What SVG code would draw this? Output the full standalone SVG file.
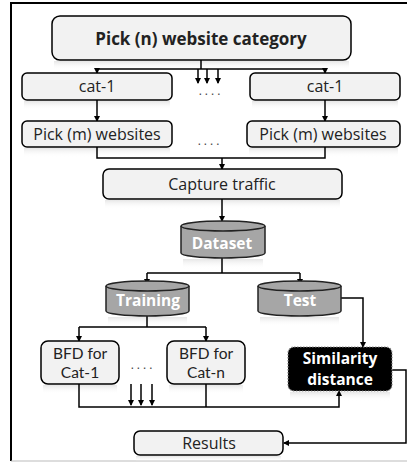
<svg xmlns="http://www.w3.org/2000/svg" width="407" height="463" viewBox="0 0 407 463">
<defs>
<marker id="ah" markerWidth="6" markerHeight="6" refX="5" refY="3" orient="auto" markerUnits="userSpaceOnUse">
<path d="M0,0 L6,3 L0,6 z" fill="#000"/>
</marker>
<linearGradient id="refl" x1="0" y1="0" x2="0" y2="1">
<stop offset="0" stop-color="#e6e6e6"/>
<stop offset="1" stop-color="#ffffff" stop-opacity="0"/>
</linearGradient>
<style>
.box{fill:#f2f2f2;stroke:#000;stroke-width:1.5}
.cyl{fill:#a6a6a6;stroke:#222;stroke-width:1.5}
.ref{fill:url(#refl)}
.t{font-family:"Open Sans","Noto Sans",sans-serif;font-size:16px;fill:#222;text-anchor:middle}
.b{font-weight:bold;font-size:17px}
.s{font-family:Lato,"Open Sans",sans-serif;font-size:15.5px}
.w{font-family:"Open Sans","Noto Sans",sans-serif;font-size:15.5px;font-weight:bold;fill:#fff;text-anchor:middle}
.ln{fill:none;stroke:#000;stroke-width:1.5}
.ar{fill:none;stroke:#000;stroke-width:1.5;marker-end:url(#ah)}
.dots{font-family:"Open Sans",sans-serif;font-size:12px;fill:#444;text-anchor:middle;letter-spacing:3px}
</style>
</defs>
<rect width="407" height="463" fill="#fff"/>
<g id="frame">
<path d="M407,3 H11 V461" fill="none" stroke="#000" stroke-width="2"/>
<path d="M11,461 H407" fill="none" stroke="#bbb" stroke-width="1"/>
</g>
<g id="reflections">
<rect class="ref" x="54" y="61" width="295" height="9"/>
<rect class="ref" x="24" y="101" width="146" height="9"/>
<rect class="ref" x="252" y="101" width="146" height="9"/>
<rect class="ref" x="24" y="148" width="146" height="9"/>
<rect class="ref" x="249" y="148" width="149" height="9"/>
<rect class="ref" x="105" y="200" width="235" height="9"/>
<rect class="ref" x="183" y="259" width="80" height="10"/>
<rect class="ref" x="108" y="317" width="79" height="9"/>
<rect class="ref" x="260" y="317" width="79" height="9"/>
<rect class="ref" x="43" y="385" width="74" height="9"/>
<rect class="ref" x="169" y="385" width="74" height="9"/>
<rect class="ref" x="290" y="392" width="100" height="9"/>
<rect class="ref" x="136" y="456" width="145" height="5"/>
</g>
<g id="connectors">
<path class="ln" d="M201,60 V69 M97,69 H325"/>
<path class="ar" d="M97,69 V73"/>
<path class="ar" d="M325,69 V73"/>
<path class="ar" d="M198,69 V83"/>
<path class="ar" d="M207,69 V83"/>
<path class="ar" d="M218,69 V83"/>
<path class="ar" d="M97,100 V121"/>
<path class="ar" d="M325,100 V121"/>
<path class="ln" d="M97,147 V158 H325 V147"/>
<path class="ar" d="M222,158 V169"/>
<path class="ar" d="M222,199 V221"/>
<path class="ln" d="M222,258 V273 M147,273 H300"/>
<path class="ar" d="M147,273 V284"/>
<path class="ar" d="M300,273 V284"/>
<path class="ar" d="M341,298 H363 V347"/>
<path class="ln" d="M147,316 V327 M79,327 H206"/>
<path class="ar" d="M79,327 V341"/>
<path class="ar" d="M206,327 V341"/>
<path class="ar" d="M79,384 V407 H339 V391"/>
<path class="ln" d="M206,384 V407"/>
<path class="ar" d="M131,384 V405"/>
<path class="ar" d="M141,384 V405"/>
<path class="ar" d="M152,384 V405"/>
<path class="ar" d="M392,370 H406 V443 H284"/>
</g>
<g id="pick-n">
<rect class="box" x="52" y="16" width="299" height="44" rx="8"/>
<text class="t b" x="201" y="45">Pick (n) website category</text>
</g>
<g id="cat-1-left">
<rect class="box" x="22" y="73" width="150" height="27" rx="5"/>
<text class="t" x="97" y="92">cat-1</text>
</g>
<g id="cat-1-right">
<rect class="box" x="250" y="73" width="150" height="27" rx="5"/>
<text class="t" x="325" y="92">cat-1</text>
</g>
<text class="dots" x="211" y="95">....</text>
<g id="pick-m-left">
<rect class="box" x="22" y="121" width="150" height="26" rx="5"/>
<text class="t" x="97" y="140">Pick (m) websites</text>
</g>
<g id="pick-m-right">
<rect class="box" x="247" y="121" width="153" height="26" rx="5"/>
<text class="t" x="323" y="140">Pick (m) websites</text>
</g>
<text class="dots" x="210" y="145">....</text>
<g id="capture">
<rect class="box" x="103" y="169" width="239" height="30" rx="6"/>
<text class="t" x="222" y="190">Capture traffic</text>
</g>
<g id="dataset">
<path class="cyl" d="M181,226 V253 A42,5 0 0 0 265,253 V226"/>
<ellipse class="cyl" cx="223" cy="226" rx="42" ry="5"/>
<text class="w" x="222" y="249">Dataset</text>
</g>
<g id="training">
<path class="cyl" d="M106,286 V311 A41.5,5 0 0 0 189,311 V286"/>
<ellipse class="cyl" cx="147.5" cy="286" rx="41.5" ry="5"/>
<text class="w" x="148" y="306">Training</text>
</g>
<g id="test">
<path class="cyl" d="M258,286 V311 A41.5,5 0 0 0 341,311 V286"/>
<ellipse class="cyl" cx="299.5" cy="286" rx="41.5" ry="5"/>
<text class="w" x="300" y="306">Test</text>
</g>
<g id="bfd-1">
<rect class="box" x="41" y="341" width="78" height="43" rx="7"/>
<text class="t s" x="80" y="359">BFD for</text>
<text class="t s" x="80" y="378">Cat-1</text>
</g>
<text class="dots" x="143" y="369">....</text>
<g id="bfd-n">
<rect class="box" x="167" y="341" width="78" height="43" rx="7"/>
<text class="t s" x="206" y="359">BFD for</text>
<text class="t s" x="206" y="378">Cat-n</text>
</g>
<g id="similarity">
<rect x="288" y="347" width="104" height="44" rx="6" fill="#000" stroke="#888" stroke-width="1.2" stroke-dasharray="1.5,1.5"/>
<text class="w" x="340" y="364">Similarity</text>
<text class="w" x="340" y="385">distance</text>
</g>
<g id="results">
<rect class="box" x="134" y="431" width="149" height="24" rx="6"/>
<text class="t" x="209" y="449">Results</text>
</g>
</svg>
